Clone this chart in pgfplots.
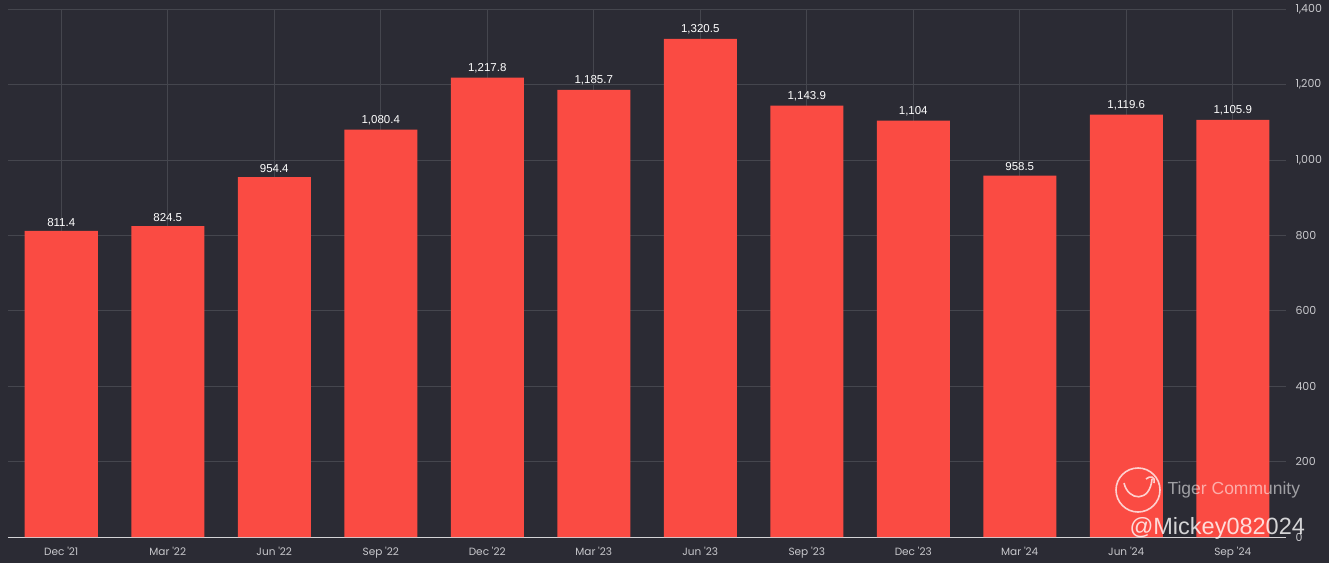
\documentclass[border=0pt]{standalone}
\usepackage{pgfplots}
\pgfplotsset{compat=1.18}
\usepackage{fontspec}
\setmainfont{Liberation Sans}
\newfontfamily\pop{Poppins}
\definecolor{bg}{HTML}{2B2B34}
\definecolor{barred}{HTML}{FA4B43}
\definecolor{gridc}{HTML}{45464E}
\definecolor{tickc}{HTML}{C8C8CC}
\begin{document}
\begin{tikzpicture}[x=1pt,y=1pt]
\path[use as bounding box,fill=bg] (0,0) rectangle (1329,563);
\begin{axis}[
  at={(8pt,26pt)}, anchor=south west,
  width=1278pt, height=528pt, scale only axis,
  xmin=-0.5, xmax=11.5, ymin=0, ymax=1400,
  axis x line*=bottom, axis y line*=right,
  x axis line style={draw=tickc!80, line width=0.8pt, -},
  y axis line style={draw=none},
  major tick length=0pt,
  xtick={0,...,11},
  xticklabels={Dec '21,Mar '22,Jun '22,Sep '22,Dec '22,Mar '23,Jun '23,Sep '23,Dec '23,Mar '24,Jun '24,Sep '24},
  ytick={0,200,...,1400},
  grid=major,
  major grid style={draw=gridc, line width=0.7pt},
  /pgf/number format/assume math mode=true,
  /pgf/number format/1000 sep={,},
  xticklabel style={font=\pop\fontsize{10.5}{12}\selectfont, text=tickc, yshift=-7pt},
  yticklabel style={font=\pop\fontsize{11}{13}\selectfont, text=tickc, anchor=west, xshift=6pt},
  nodes near coords,
  every node near coord/.append style={font=\fontsize{11.5}{13}\selectfont, text=white, yshift=1pt},
  nodes near coords style={/pgf/number format/1000 sep={,}, /pgf/number format/precision=1},
]
\addplot[ybar, bar width=73pt, fill=barred, draw=none] coordinates {
 (0,811.4) (1,824.5) (2,954.4) (3,1080.4) (4,1217.8) (5,1185.7)
 (6,1320.5) (7,1143.9) (8,1104) (9,958.5) (10,1119.6) (11,1105.9)};
\end{axis}
% watermark
\draw[white, opacity=0.75, line width=1.6pt] (1138,73) circle (22);
\draw[white, opacity=0.75, line width=1.6pt] (1124,80) .. controls (1128,62) and (1150,60) .. (1152,84);
\draw[white, opacity=0.75, line width=1.6pt] (1146,84) .. controls (1150,88) and (1156,86) .. (1154,80);
\node[anchor=west, text=white, opacity=0.55, font=\fontsize{17.5}{20}\selectfont] at (1164,73) {Tiger Community};
\node[anchor=west, text=white, opacity=0.8, font=\fontsize{23.5}{26}\selectfont] at (1126,35) {@Mickey082024};
\end{tikzpicture}
\end{document}
